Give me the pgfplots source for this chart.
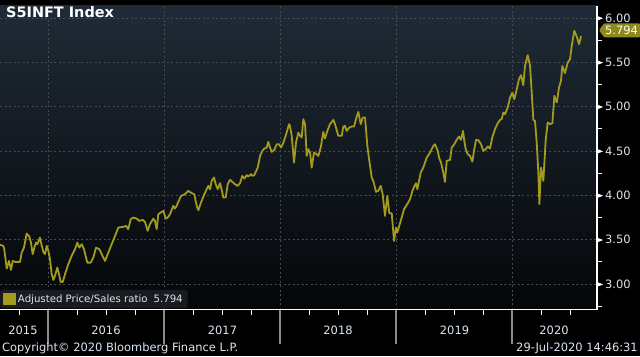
\documentclass[border=0pt]{standalone}
\usepackage{pgfplots}
\pgfplotsset{compat=1.18}
\usepackage{fontspec}
\setmainfont{DejaVu Sans}
\definecolor{bbline}{HTML}{A39B1E}
\definecolor{bbflag}{HTML}{8E881F}
\definecolor{bbtext}{HTML}{DCE6F0}
\definecolor{bbgrid}{HTML}{464B52}
\definecolor{bbtop}{HTML}{1F2B37}
\definecolor{bbbot}{HTML}{050608}
\definecolor{bblegend}{HTML}{181B1F}
\definecolor{bbyear}{HTML}{8A8A8A}

\pgfplotstableread{
x y
2015.586 3.441
2015.615 3.430
2015.623 3.392
2015.644 3.174
2015.664 3.260
2015.681 3.159
2015.696 3.260
2015.716 3.249
2015.759 3.249
2015.773 3.354
2015.793 3.410
2015.816 3.568
2015.839 3.534
2015.853 3.467
2015.868 3.336
2015.882 3.410
2015.897 3.467
2015.908 3.449
2015.931 3.523
2015.946 3.430
2015.960 3.362
2015.974 3.336
2015.989 3.430
2016.003 3.373
2016.017 3.280
2016.032 3.111
2016.046 3.046
2016.060 3.091
2016.080 3.185
2016.095 3.111
2016.109 3.024
2016.127 3.024
2016.147 3.111
2016.175 3.223
2016.204 3.317
2016.233 3.392
2016.253 3.467
2016.270 3.410
2016.291 3.449
2016.310 3.392
2016.339 3.241
2016.368 3.241
2016.391 3.298
2016.414 3.410
2016.442 3.392
2016.463 3.336
2016.491 3.260
2016.520 3.354
2016.549 3.449
2016.578 3.542
2016.606 3.636
2016.649 3.644
2016.672 3.655
2016.692 3.618
2016.713 3.731
2016.735 3.749
2016.765 3.737
2016.787 3.711
2016.816 3.723
2016.836 3.700
2016.859 3.599
2016.879 3.674
2016.908 3.737
2016.922 3.711
2016.937 3.618
2016.951 3.787
2016.980 3.813
2016.994 3.824
2017.015 3.737
2017.032 3.749
2017.052 3.787
2017.080 3.881
2017.095 3.850
2017.110 3.881
2017.123 3.926
2017.147 3.993
2017.181 4.012
2017.209 4.050
2017.239 4.024
2017.261 4.012
2017.282 3.881
2017.296 3.832
2017.319 3.918
2017.348 4.012
2017.368 4.069
2017.382 4.106
2017.397 4.069
2017.411 4.162
2017.431 4.200
2017.446 4.125
2017.463 4.069
2017.483 4.136
2017.503 4.030
2017.511 3.974
2017.532 3.974
2017.549 4.125
2017.569 4.174
2017.589 4.151
2017.612 4.125
2017.635 4.106
2017.655 4.136
2017.675 4.219
2017.692 4.188
2017.713 4.227
2017.727 4.211
2017.750 4.238
2017.761 4.219
2017.778 4.227
2017.808 4.312
2017.828 4.444
2017.848 4.501
2017.865 4.527
2017.885 4.538
2017.899 4.602
2017.914 4.538
2017.928 4.489
2017.951 4.512
2017.972 4.576
2017.991 4.576
2018.009 4.538
2018.029 4.594
2018.049 4.670
2018.078 4.802
2018.086 4.782
2018.101 4.670
2018.121 4.369
2018.138 4.594
2018.158 4.707
2018.173 4.670
2018.187 4.651
2018.201 4.858
2018.216 4.802
2018.230 4.444
2018.244 4.520
2018.259 4.481
2018.273 4.312
2018.293 4.481
2018.316 4.463
2018.330 4.444
2018.351 4.538
2018.373 4.715
2018.388 4.639
2018.408 4.726
2018.431 4.802
2018.460 4.850
2018.474 4.802
2018.503 4.670
2018.532 4.670
2018.546 4.775
2018.560 4.782
2018.575 4.726
2018.597 4.763
2018.618 4.775
2018.638 4.775
2018.655 4.858
2018.675 4.940
2018.696 4.802
2018.713 4.876
2018.733 4.876
2018.753 4.557
2018.770 4.388
2018.791 4.200
2018.804 4.162
2018.828 4.038
2018.847 4.050
2018.868 4.106
2018.885 4.012
2018.905 3.768
2018.925 3.993
2018.942 3.798
2018.963 3.798
2018.983 3.486
2019.000 3.636
2019.011 3.580
2019.028 3.655
2019.049 3.749
2019.069 3.843
2019.097 3.900
2019.121 3.956
2019.144 4.061
2019.172 4.136
2019.184 4.069
2019.213 4.256
2019.235 4.312
2019.265 4.425
2019.293 4.481
2019.322 4.557
2019.336 4.576
2019.360 4.501
2019.371 4.425
2019.388 4.369
2019.408 4.256
2019.422 4.151
2019.437 4.388
2019.466 4.399
2019.480 4.538
2019.503 4.576
2019.523 4.625
2019.543 4.662
2019.560 4.625
2019.578 4.726
2019.589 4.613
2019.601 4.520
2019.618 4.463
2019.638 4.444
2019.658 4.380
2019.675 4.520
2019.690 4.625
2019.710 4.621
2019.733 4.576
2019.753 4.501
2019.773 4.520
2019.791 4.549
2019.810 4.527
2019.830 4.651
2019.853 4.745
2019.877 4.813
2019.897 4.850
2019.911 4.858
2019.925 4.932
2019.940 4.914
2019.963 4.989
2019.983 5.101
2020.003 5.158
2020.020 5.083
2020.041 5.196
2020.060 5.309
2020.078 5.354
2020.097 5.241
2020.112 5.459
2020.135 5.580
2020.155 5.467
2020.170 5.158
2020.184 4.850
2020.198 4.839
2020.213 4.594
2020.227 4.256
2020.236 3.900
2020.250 4.312
2020.270 4.162
2020.291 4.633
2020.308 4.820
2020.328 4.802
2020.348 4.813
2020.365 5.121
2020.386 5.045
2020.405 5.214
2020.422 5.290
2020.434 5.459
2020.457 5.377
2020.480 5.496
2020.500 5.534
2020.515 5.684
2020.537 5.853
2020.558 5.789
2020.578 5.704
2020.595 5.794
}\ratio

\begin{document}
\begin{tikzpicture}[x=1bp,y=1bp]
\useasboundingbox (0,0) rectangle (640,356);
\fill[black] (0,0) rectangle (640,356);
\begin{axis}[
  at={(0,52)}, anchor=south west,
  width=597bp, height=304bp, scale only axis,
  xmin=2015.5862, xmax=2020.7328, ymin=2.708, ymax=6.1353,
  axis x line*=bottom, axis y line*=right,
  axis line style={white, line width=1.2bp},
  axis background/.style={shade, top color=bbtop, bottom color=bbbot},
  xtick={2016,2017,2018,2019,2020}, xticklabels={},
  minor xtick={2015.75,2016.25,2016.5,2016.75,2017.25,2017.5,2017.75,2018.25,2018.5,2018.75,2019.25,2019.5,2019.75,2020.25,2020.5},
  ytick={3,3.5,4,4.5,5,5.5,6},
  minor ytick={2.75,3.25,3.75,4.25,4.75,5.25,5.75},
  tick align=outside,
  major tick length=34bp, minor tick length=5bp,
  every major x tick/.append style={bbyear, line width=1.2bp},
  every major y tick/.append style={draw=none},
  every minor tick/.append style={white, line width=1bp},
  grid=major,
  major grid style={bbgrid, dash pattern=on 2bp off 2.5bp, line width=0.7bp},
  /pgf/number format/assume math mode=true,
  yticklabel pos=right,
  yticklabel style={anchor=west, inner xsep=0bp, xshift=-34bp, text=bbtext, font=\fontsize{11.5}{13}\selectfont},
  yticklabel={\tikz[baseline=-0.6ex]\fill[white](0,-2.3bp)--(6bp,0)--(0,2.3bp)--cycle;\hspace{2bp}\pgfmathprintnumber[fixed,fixed zerofill,precision=2]{\tick}},
  legend style={at={(0,0)}, anchor=south west, yshift=1.5bp, fill=bblegend, draw=none,
    rounded corners=3bp, text=bbtext, font=\fontsize{10.2}{12}\selectfont,
    inner xsep=3bp, inner ysep=2.5bp},
  legend image code/.code={\fill[bbline, sharp corners] (0bp,-5.5bp) rectangle (11bp,5.5bp);},
  clip=true,
]
\addplot[bbline, line width=1.8bp, line join=round] table[x=x,y=y] {\ratio};
\addlegendentry{Adjusted Price/Sales ratio\hspace{6bp}5.794}
\end{axis}
% title
\node[anchor=west, text=white, inner sep=0pt, font=\bfseries\fontsize{14.5}{16}\selectfont] at (6,344) {S5INFT Index};
% year labels
\begin{scope}[every node/.style={text=bbtext, font=\fontsize{11.5}{13}\selectfont, inner sep=0pt}]
\node at (23,26) {2015};
\node at (106,26) {2016};
\node at (222.5,26) {2017};
\node at (338,26) {2018};
\node at (454.5,26) {2019};
\node at (554,26) {2020};
\node[anchor=west] at (2,8) {Copyright© 2020 Bloomberg Finance L.P.};
\node[anchor=east] at (638,8) {29-Jul-2020 14:46:31};
\end{scope}
% last value flag
\fill[bbflag, rounded corners=1bp] (599,325.7) -- (604,332.7) -- (640,332.7) -- (640,318.7) -- (604,318.7) -- cycle;
\node[text=white!92!yellow, font=\fontsize{11.5}{13}\selectfont, inner sep=0pt] at (621.5,325.7) {5.794};
\end{tikzpicture}
\end{document}
